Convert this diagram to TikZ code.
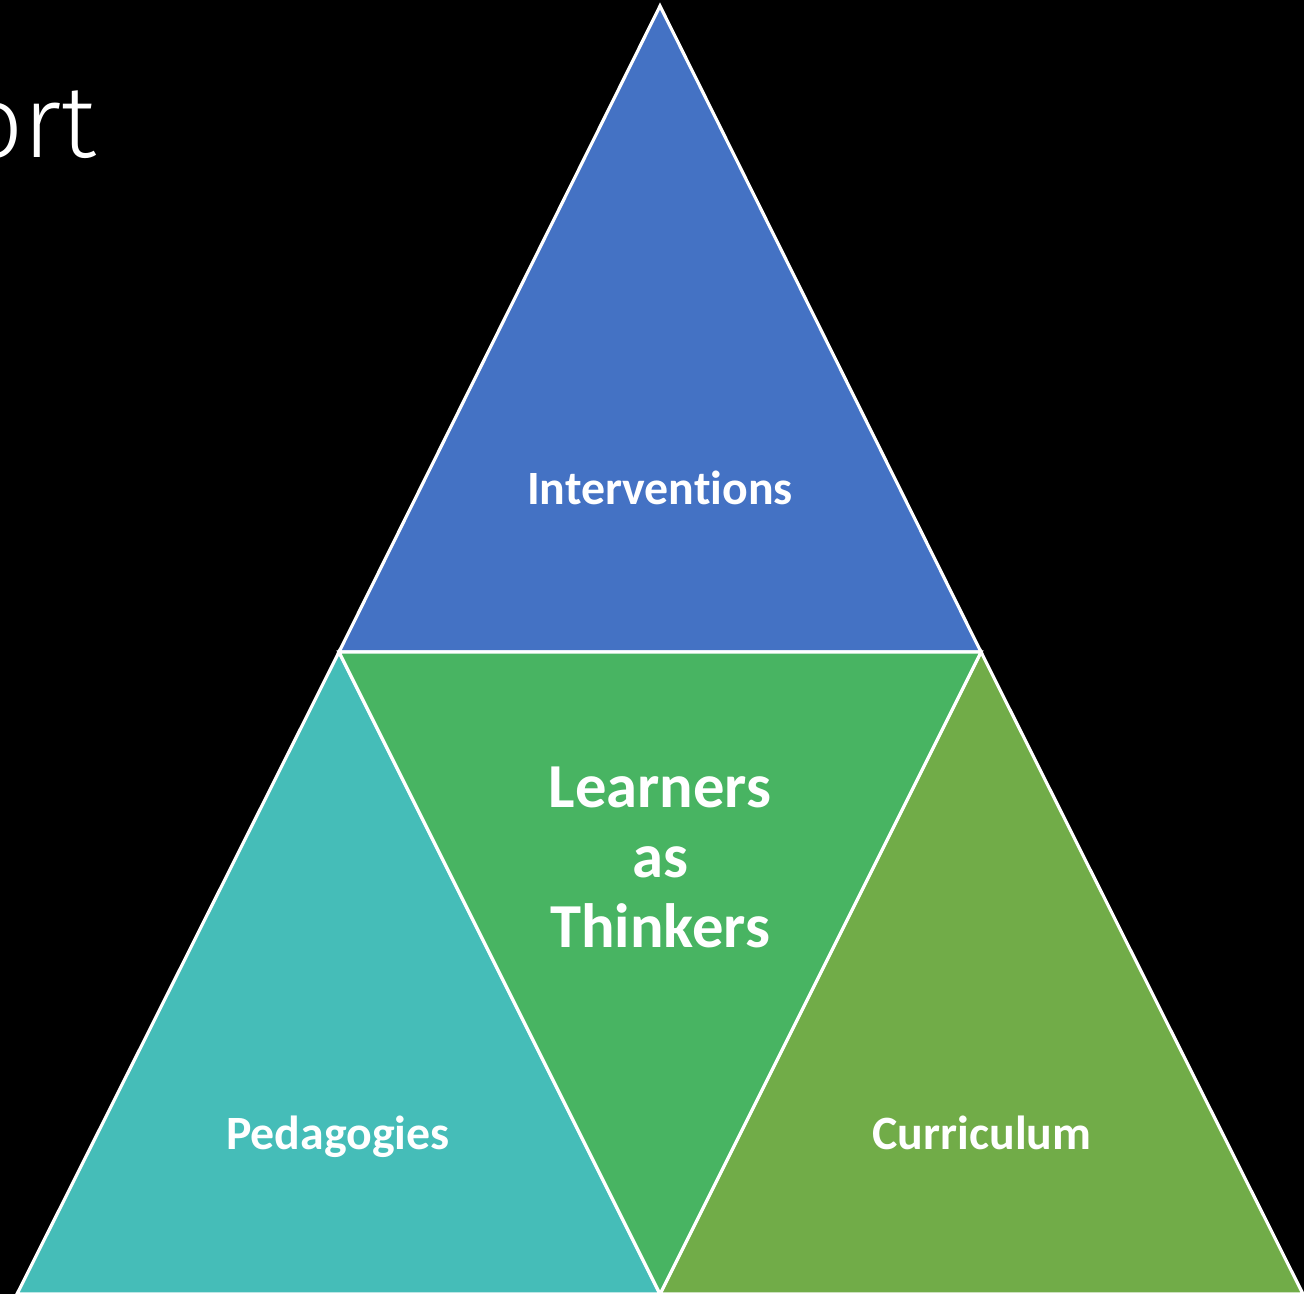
\documentclass[tikz,border=0pt]{standalone}
\usepackage{fontspec}
\setmainfont[Ligatures=CommonOff]{Carlito}
\newfontfamily\lightfont{Fira Sans Light}
\definecolor{cblue}{HTML}{4472C4}
\definecolor{cteal}{HTML}{45BDB8}
\definecolor{cgreen}{HTML}{48B462}
\definecolor{colive}{HTML}{71AC48}
\begin{document}
\begin{tikzpicture}[x=0.01cm,y=-0.01cm,
  tri/.style={draw=white,line width=0.9pt,line join=miter},
  lab/.style={text=white,font=\fontsize{13.6}{16}\selectfont\bfseries,align=center,anchor=base,inner sep=0pt},
  biglab/.style={text=white,font=\fontsize{17.8}{19.8}\selectfont\bfseries,align=center,anchor=base,inner sep=0pt}]
\fill[black] (0,0) rectangle (1304,1294);
\useasboundingbox (0,0) rectangle (1304,1294);
\coordinate (T) at (660,6);
\coordinate (ML) at (339,652);
\coordinate (MR) at (981,652);
\coordinate (BL) at (17,1294);
\coordinate (BM) at (660,1294);
\coordinate (BR) at (1303,1294);
\filldraw[tri,fill=cblue] (T) -- (MR) -- (ML) -- cycle;
\filldraw[tri,fill=cteal] (ML) -- (BM) -- (BL) -- cycle;
\filldraw[tri,fill=colive] (MR) -- (BR) -- (BM) -- cycle;
\filldraw[tri,fill=cgreen] (ML) -- (MR) -- (BM) -- cycle;
\node[lab] (interv) at (660,504) {Interventions};
\node[biglab] (learn) at (660,947) {Learners\\as\\Thinkers};
\node[lab] (peda) at (338,1149) {Pedagogies};
\node[lab] (curr) at (982,1149) {Curriculum};
\node[anchor=base east,inner sep=0pt,text=white,font=\lightfont\fontsize{29}{34}\selectfont] (title) at (97,157) {ort};
\end{tikzpicture}
\end{document}
